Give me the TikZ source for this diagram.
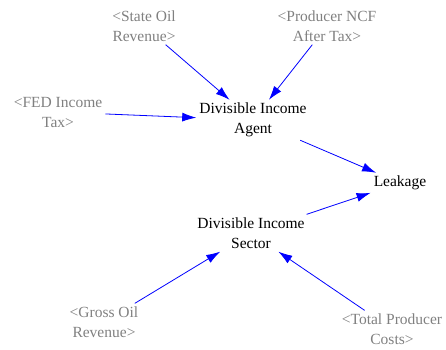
\documentclass[tikz,border=0pt]{standalone}
\usepackage{fontspec}
\setmainfont{Liberation Serif}
\usetikzlibrary{arrows.meta, positioning}

\begin{document}
\begin{tikzpicture}[x=1pt, y=-1pt]
        % Styles
        \tikzstyle{var} = [text=black, align=center, inner sep=3pt,
        font=\fontsize{15.5}{20}\selectfont]
        \tikzstyle{shadow} = [var, text=black!50]
        \tikzstyle{link} = [draw=blue, line width=0.8pt,
        -{Latex[length=14pt, width=9pt]}]

        \useasboundingbox (0,0) rectangle (446,349);

        % Nodes
        \node (agent) [var] at (253,120) {Divisible Income \\ Agent};
        \node (sector) [var] at (251,233) {Divisible Income \\ Sector};
        \node (leakage) [var] at (400,183) {Leakage};
        \node (stateoil) [shadow] at (144,26) {<State Oil \\ Revenue>};
        \node (ncf) [shadow] at (327,26) {<Producer NCF \\ After Tax>};
        \node (fedtax) [shadow] at (58,112) {<FED Income \\ Tax>};
        \node (grossoil) [shadow] at (104,322) {<Gross Oil \\ Revenue>};
        \node (prodcost) [shadow] at (392,329) {<Total Producer \\ Costs>};

        % Arrows
        \draw[link] (stateoil) -- (agent);
        \draw[link] (ncf) -- (agent);
        \draw[link] (fedtax) -- (agent);
        \draw[link] (agent) -- (leakage);
        \draw[link] (sector) -- (leakage);
        \draw[link] (grossoil) -- (sector);
        \draw[link] (prodcost) -- (sector);
    \end{tikzpicture}
\end{document}
